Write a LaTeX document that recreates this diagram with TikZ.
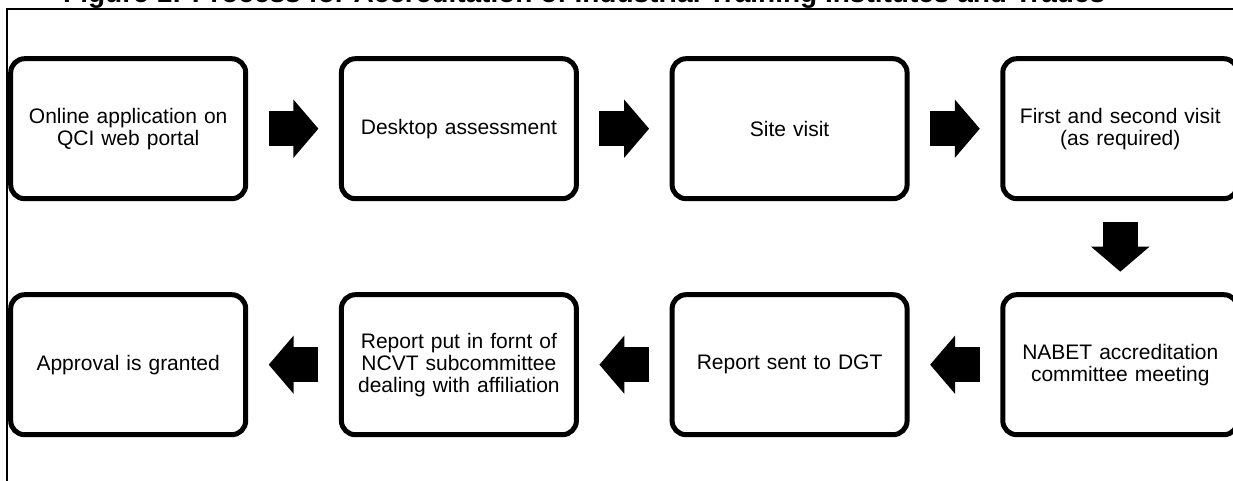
\documentclass[tikz,border=0pt]{standalone}
\usepackage{fontspec}
\setmainfont{Liberation Sans}
\usetikzlibrary{matrix,arrows.meta}
\tikzset{
  stage/.style      = {shape=rectangle, rounded corners=14pt,
                       draw, line width=5pt, fill=white,
                       anchor=center,
                       minimum width=235pt, minimum height=140pt,
                       text width=220pt, align=center,
                       inner sep=4pt,
                       font=\fontsize{21}{22}\selectfont},
  blockarrow/.style = {line width=35pt,
                       -{Triangle[length=25pt,width=57pt]},
                       shorten <=20.5pt, shorten >=20.5pt},
  heading/.style    = {font=\fontsize{28}{30}\selectfont\bfseries,
                       inner sep=0pt},
  frame/.style      = {line width=1.5pt}
}
\begin{document}
\begin{tikzpicture}[x=1pt,y=-1pt]
  \useasboundingbox (0,0) rectangle (1233,481);

  \node[heading, anchor=base west] (title) at (63,3)
    {Figure 1: Process for Accreditation of Industrial Training Institutes and Trades};
  \coordinate (frame-top) at (1233,9);
  \coordinate (frame-bot) at (7,481);
  \draw[frame] (frame-bot) |- (frame-top);

  \matrix (chart)
    [
      matrix of nodes,
      anchor      = north west,
      inner sep   = 0pt,
      column sep  = 90.7pt,
      row sep     = 91pt,
      nodes       = {stage}
    ]
    at (8,56)
    {
      {Online application on\\QCI web portal} & Desktop assessment
        & Site visit & {First and second visit\\(as required)} \\
      Approval is granted
        & {Report put in fornt of\\NCVT subcommittee\\dealing with affiliation}
        & Report sent to DGT & {NABET accreditation\\committee meeting} \\
    };

  \draw[blockarrow]
    \foreach \a/\b in {1-1/1-2, 1-2/1-3, 1-3/1-4, 1-4/2-4,
                       2-4/2-3, 2-3/2-2, 2-2/2-1} {
      (chart-\a) edge (chart-\b) };
\end{tikzpicture}
\end{document}
